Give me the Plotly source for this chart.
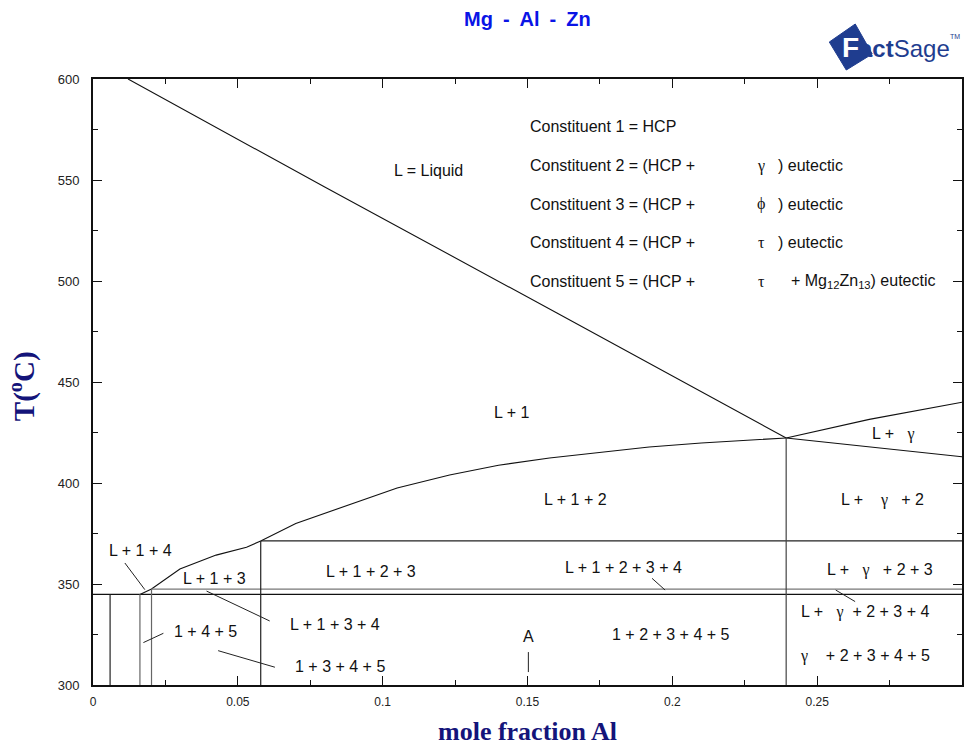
import plotly.graph_objects as go

# ---------------- data ----------------
x_ticks = [0, 0.05, 0.1, 0.15, 0.2, 0.25]
x_tick_text = ["0", "0.05", "0.1", "0.15", "0.2", "0.25"]
x_minor = [0.025, 0.075, 0.125, 0.175, 0.225, 0.275]
y_ticks = [300, 350, 400, 450, 500, 550, 600]

# liquidus (L / L+1)
liq_x = [0.0121, 0.08, 0.16, 0.2393]
liq_y = [600.0, 546.5, 484.3, 422.3]
# L+gamma upper boundary
lg_up_x = [0.2393, 0.268, 0.30]
lg_up_y = [422.3, 431.5, 440.0]
# L+gamma lower boundary
lg_lo_x = [0.2393, 0.30]
lg_lo_y = [422.3, 413.0]
# L+1 / L+1+4 / L+1+3 / L+1+2 boundary curve
b12_x = [0.0162, 0.0202, 0.0300, 0.0425, 0.0530, 0.0579, 0.0700, 0.0886, 0.1050, 0.1231, 0.1400, 0.1576, 0.1750, 0.1920, 0.2100, 0.2266, 0.2393]
b12_y = [344.8, 347.5, 357.4, 364.3, 368.2, 371.3, 380.0, 389.1, 397.5, 404.0, 408.8, 412.4, 415.3, 417.8, 419.8, 421.3, 422.3]
# horizontal invariant lines: (x_start, x_end, T)
h_x0 = [0.0579, 0.0202, 0.0]
h_x1 = [0.30, 0.30, 0.30]
h_T = [371.3, 347.5, 344.9]
h_col = ["#222222", "#777777", "#111111"]
# vertical lines: (x, T_top)
v_x = [0.0059, 0.0162, 0.0202, 0.0579, 0.2393]
v_top = [344.9, 344.9, 347.5, 371.3, 422.3]
v_col = ["#222222", "#666666", "#666666", "#222222", "#444444"]
T_min = 300
# composition A marker
a_x = [0.1503, 0.1503]
a_y = [316.3, 306.4]
# leader lines (x0, y0, x1, y1)
lead_x0 = [0.0110, 0.0392, 0.0174, 0.0432, 0.1930, 0.2564]
lead_y0 = [360.4, 346.5, 321.0, 317.0, 352.8, 347.0]
lead_x1 = [0.0179, 0.0610, 0.0243, 0.0628, 0.1975, 0.2631]
lead_y1 = [347.2, 331.7, 325.6, 308.8, 347.0, 341.3]

S = "\u00a0"
G = '<span style="font-family:Liberation Serif">γ</span>'
PHI = '<span style="font-family:Liberation Serif">ϕ</span>'
TAU = '<span style="font-family:Liberation Serif">τ</span>'

# region labels
lab_text = ["L = Liquid", "L + 1", "L + 1 + 2",
            "L +" + S * 3 + G,
            "L +" + S * 4 + G + S * 3 + "+ 2",
            "L + 1 + 4", "L + 1 + 3", "L + 1 + 2 + 3", "L + 1 + 2 + 3 + 4",
            "L +" + S * 3 + G + S * 3 + "+ 2 + 3",
            "L + 1 + 3 + 4",
            "L +" + S * 3 + G + S * 2 + "+ 2 + 3 + 4",
            "1 + 4 + 5", "A", "1 + 2 + 3 + 4 + 5", "1 + 3 + 4 + 5",
            G + S * 4 + "+ 2 + 3 + 4 + 5"]
lab_x = [0.1159, 0.1447, 0.1664, 0.2762, 0.2725,
         0.01653, 0.0420, 0.0958, 0.1832,
         0.2718, 0.0834, 0.2665,
         0.0389, 0.1505, 0.1994, 0.0851, 0.2664]
lab_y = [554.5, 434.7, 391.6, 424.3, 391.6,
         366.5, 352.5, 356.4, 358.4,
         356.9, 330.2, 336.3,
         326.4, 324.0, 325.2, 309.4, 314.4]

# constituent legend
const_text = ["Constituent 1 = HCP", "Constituent 2 = (HCP +", "Constituent 3 = (HCP +",
              "Constituent 4 = (HCP +", "Constituent 5 = (HCP +"]
const_greek = ["", G, PHI, TAU, TAU]
const_tail = ["", ") eutectic", ") eutectic", ") eutectic", "+ Mg<sub>12</sub>Zn<sub>13</sub>) eutectic"]
const_tail_x = [0, 0.2357, 0.2357, 0.2357, 0.2403]
const_y = [576.4, 557.1, 538.0, 519.0, 499.7]
const_x = 0.1503
greek_x = 0.2307

# ---------------- figure ----------------
fig = go.Figure()

def add_line(xs, ys, color="#111111", width=1.1):
    fig.add_trace(go.Scatter(x=xs, y=ys, mode="lines", line=dict(color=color, width=width),
                             hoverinfo="skip", showlegend=False))

add_line(liq_x, liq_y)
add_line(lg_up_x, lg_up_y)
add_line(lg_lo_x, lg_lo_y)
add_line(b12_x, b12_y)
for x0, x1, t, c in zip(h_x0, h_x1, h_T, h_col):
    add_line([x0, x1], [t, t], color=c, width=1.3)
for x, top, c in zip(v_x, v_top, v_col):
    add_line([x, x], [top, T_min], color=c, width=1.2)
add_line(a_x, a_y, color="#222222", width=1)
for x0, y0, x1, y1 in zip(lead_x0, lead_y0, lead_x1, lead_y1):
    add_line([x0, x1], [y0, y1], color="#222222", width=1)

ann = []
lab_font = dict(family="Liberation Sans, Arial", size=16, color="#111111")
for t, x, y in zip(lab_text, lab_x, lab_y):
    ann.append(dict(x=x, y=y, text=t, showarrow=False, font=lab_font, xanchor="center", yanchor="middle"))
for t, g, tail, tx, y in zip(const_text, const_greek, const_tail, const_tail_x, const_y):
    ann.append(dict(x=const_x, y=y, text=t, showarrow=False, font=lab_font, xanchor="left", yanchor="middle"))
    if g:
        ann.append(dict(x=greek_x, y=y, text=g, showarrow=False, font=lab_font, xanchor="center", yanchor="middle"))
        ann.append(dict(x=tx, y=y, text=tail, showarrow=False, font=lab_font, xanchor="left", yanchor="middle"))


def px(x):
    return (x - 93) / 871


def py(y):
    return (685 - y) / 606


# title
ann.append(dict(xref="paper", yref="paper", x=px(529), y=py(19),
                text="<b>Mg\u2002-\u2002Al\u2002-\u2002Zn</b>", showarrow=False,
                font=dict(family="Liberation Sans, Arial", size=20, color="#0a14e6"),
                xanchor="center", yanchor="middle"))
# axis titles
ann.append(dict(xref="paper", yref="paper", x=px(528), y=py(731),
                text="<b>mole fraction Al</b>", showarrow=False,
                font=dict(family="Liberation Serif, Times New Roman", size=26, color="#14147a"),
                xanchor="center", yanchor="middle"))
ann.append(dict(xref="paper", yref="paper", x=px(22), y=py(386),
                text="<b>T(<sup>o</sup>C)</b>", showarrow=False, textangle=-90,
                font=dict(family="Liberation Serif, Times New Roman", size=29, color="#14147a"),
                xanchor="center", yanchor="middle"))

# FactSage logo (approximation)
logo_col = "#1f3d8f"
pts = [(831, 42), (857, 24), (874, 54), (848, 70)]
path = "M " + " L ".join(f"{px(a)},{py(b)}" for a, b in pts) + " Z"
shapes = [dict(type="path", xref="paper", yref="paper", path=path, fillcolor=logo_col,
               line=dict(color=logo_col, width=1))]
ann.append(dict(xref="paper", yref="paper", x=px(852), y=py(47), text="<b>F</b>", showarrow=False,
                font=dict(family="Liberation Sans, Arial", size=28, color="white"),
                xanchor="center", yanchor="middle"))
ann.append(dict(xref="paper", yref="paper", x=px(859), y=py(49),
                text="<b>act</b>Sage", showarrow=False,
                font=dict(family="Liberation Sans, Arial", size=24, color=logo_col),
                xanchor="left", yanchor="middle"))
ann.append(dict(xref="paper", yref="paper", x=px(957), y=py(37), text="TM", showarrow=False,
                font=dict(family="Liberation Sans, Arial", size=7, color=logo_col),
                xanchor="center", yanchor="middle"))

axis_common = dict(showline=True, linecolor="#111111", linewidth=2, mirror="ticks",
                   ticks="inside", ticklen=9, tickwidth=1.2, tickcolor="#111111",
                   showgrid=False, zeroline=False)

fig.update_layout(
    width=966, height=747,
    margin=dict(l=93, r=2, t=79, b=62),
    paper_bgcolor="white", plot_bgcolor="white",
    xaxis=dict(range=[0, 0.3], tickvals=x_ticks, ticktext=x_tick_text,
               minor=dict(tickvals=x_minor, ticks="inside", ticklen=5, tickcolor="#111111"),
               ticklabelstandoff=5,
               tickfont=dict(family="Liberation Sans, Arial", size=12, color="#222222"),
               **axis_common),
    yaxis=dict(range=[300, 600], tickvals=y_ticks,
               minor=dict(dtick=25, ticks="inside", ticklen=5, tickcolor="#111111"),
               ticklabelstandoff=9,
               tickfont=dict(family="Liberation Sans, Arial", size=13, color="#222222"),
               **axis_common),
    annotations=ann,
    shapes=shapes,
)

fig.write_html("out.html", config={"displayModeBar": False},
               post_script="document.body.style.margin='0';document.body.style.overflow='hidden';")
